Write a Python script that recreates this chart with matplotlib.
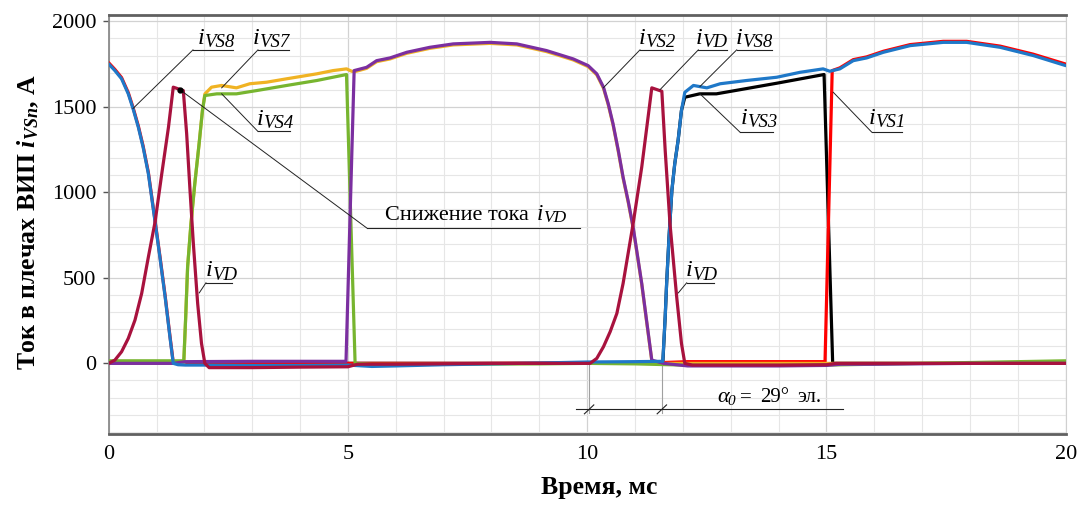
import matplotlib
matplotlib.use('Agg')
import matplotlib.pyplot as plt
import numpy as np
from matplotlib.ticker import MultipleLocator

plt.rcParams['font.family'] = ['Liberation Serif', 'DejaVu Serif']
plt.rcParams['mathtext.fontset'] = 'custom'
plt.rcParams['mathtext.rm'] = 'Liberation Serif'
plt.rcParams['mathtext.it'] = 'Liberation Serif:italic'
plt.rcParams['mathtext.bf'] = 'Liberation Serif:bold'
HAS_BFIT = 'mathtext.bfit' in plt.rcParams
if HAS_BFIT:
    plt.rcParams['mathtext.bfit'] = 'Liberation Serif:italic:bold'

# ---------------- data (time, ms ; current, A) ----------------
t_vs8 = [0, 0.13, 0.27, 0.41, 0.51, 0.62, 0.72, 0.83, 0.97, 1.07, 1.18, 1.28, 1.35, 1.45, 1.6, 2.0,
         3.0, 4.0, 5.0, 5.5, 6.0, 7.0, 8.0, 9.0, 10.0, 11.0, 11.58, 11.63, 11.66, 11.71, 11.77, 11.83,
         11.90, 11.97, 12.04, 12.22, 12.50, 12.78, 13.33, 13.96, 14.45, 14.93, 15.07, 15.28, 15.56,
         15.84, 16.19, 16.75, 17.44, 17.93, 18.63, 19.32, 20.0]
i_vs8 = [1751, 1712, 1664, 1576, 1489, 1381, 1264, 1109, 827, 622, 389, 155, 0, -8, -10, -10,
         -12, -12, -10, -18, -15, -8, -3, 2, 8, 10, 12, 272, 467, 739, 1012, 1168,
         1304, 1479, 1585, 1625, 1611, 1635, 1654, 1673, 1702, 1722, 1708, 1722, 1770,
         1786, 1819, 1858, 1877, 1877, 1848, 1800, 1741]

t_vs1 = [0, 0.13, 0.27, 0.41, 0.51, 0.62, 0.72, 0.83, 0.97, 1.07, 1.18, 1.28, 1.35, 1.5, 2.0, 5.0,
         8.0, 11.6, 12.1, 14.97, 15.12, 15.28, 15.56, 15.84, 16.19, 16.75, 17.44, 17.93, 18.63,
         19.32, 20.0]
i_vs1 = [1758, 1719, 1671, 1583, 1496, 1388, 1271, 1116, 834, 629, 396, 162, 5, 0, 0, 0,
         0, 5, 10, 10, 1712, 1728, 1776, 1792, 1825, 1864, 1883, 1883, 1855,
         1808, 1750]

t_vd = [0, 0.13, 0.27, 0.41, 0.55, 0.69, 0.83, 0.97, 1.11, 1.25, 1.35, 1.56, 1.63, 1.70, 1.77, 1.86,
        1.94, 2.01, 2.1, 3.0, 4.0, 5.0, 5.2, 6.0, 8.0, 10.06, 10.20, 10.34, 10.48, 10.62, 10.75,
        10.96, 11.14, 11.35, 11.56, 11.63, 11.73, 11.87, 11.97, 12.04, 12.2, 13.0, 14.0, 15.0, 15.2,
        16.0, 18.0, 20.0]
i_vd = [0, 19, 68, 146, 253, 409, 622, 827, 1109, 1381, 1615, 1595, 1343, 1012, 700, 350,
        117, 0, -25, -25, -22, -20, -5, -5, 0, 0, 29, 97, 185, 292, 467,
        817, 1148, 1611, 1591, 1245, 817, 389, 117, 0, -10, -10, -10, -8, 0,
        0, 0, 0]

t_vs4 = [0, 1.0, 1.57, 1.61, 1.65, 1.72, 1.80, 1.89, 1.96, 2.01, 2.26, 2.67, 3.09, 3.72, 4.35, 4.97,
         5.15, 5.5, 7.0, 9.0, 10.0, 11.0, 12.0, 13.0, 14.0, 15.0, 16.0, 17.0, 18.0, 19.0, 20.0]
i_vs4 = [15, 15, 15, 272, 564, 817, 1051, 1284, 1479, 1566, 1576, 1576, 1595, 1625, 1654, 1689,
         0, -5, -5, -3, 0, -3, -10, -12, -12, -10, -5, 0, 5, 10, 15]

t_vs7 = [0, 1.57, 1.61, 1.65, 1.72, 1.80, 1.89, 1.96, 2.01, 2.15, 2.36, 2.67, 2.95, 3.30, 3.72,
         4.35, 4.69, 4.97, 5.08, 5.15, 5.39, 5.60, 5.88, 6.23, 6.71, 7.20, 7.97, 8.53, 9.15, 9.71,
         10.02, 10.20, 10.34, 10.44, 10.54, 10.65, 10.75, 10.86, 10.96, 11.14, 11.24, 11.35, 11.5,
         12.0, 15.0, 20.0]
i_vs7 = [0, 0, 272, 564, 817, 1051, 1284, 1479, 1575, 1615, 1625, 1611, 1635, 1644, 1664,
         1693, 1712, 1722, 1708, 1706, 1725, 1764, 1780, 1813, 1842, 1862, 1871, 1862, 1823, 1774,
         1735, 1687, 1609, 1512, 1395, 1239, 1083, 938, 791, 461, 247, 15, 0,
         0, 0, 0]

t_vs2 = [0, 1.35, 1.6, 3.0, 4.96, 5.13, 5.39, 5.60, 5.88, 6.23, 6.71, 7.20, 7.97, 8.53, 9.15, 9.71,
         10.02, 10.20, 10.34, 10.44, 10.54, 10.65, 10.75, 10.86, 10.96, 11.14, 11.24, 11.35, 11.6,
         12.1, 13.0, 14.0, 15.0, 15.3, 16.0, 18.0, 20.0]
i_vs2 = [0, 0, 10, 12, 12, 1712, 1731, 1770, 1786, 1819, 1848, 1868, 1877, 1868, 1829, 1780,
         1741, 1693, 1615, 1518, 1401, 1245, 1089, 944, 797, 467, 253, 19, 0,
         -15, -15, -15, -12, -5, -5, 0, 0]

t_vs3 = [0, 11.58, 11.63, 11.66, 11.71, 11.77, 11.83, 11.90, 11.97, 12.04, 12.35, 12.70, 13.19,
         13.96, 14.95, 15.13, 20.0]
i_vs3 = [0, 0, 272, 467, 739, 1012, 1168, 1304, 1479, 1556, 1576, 1576, 1600,
         1638, 1689, 0, 0]

x_ticks = [0, 5, 10, 15, 20]
y_ticks = [0, 500, 1000, 1500, 2000]

# ---------------- figure ----------------
fig = plt.figure(figsize=(10.79, 5.05), dpi=100)
ax = fig.add_axes([0.1007, 0.1406, 0.887, 0.8297])

LW = 2.3
series = [
    (t_vs3, i_vs3, '#000000', 2),
    (t_vs1, i_vs1, '#FF0000', 3),
    (t_vs7, i_vs7, '#F0B323', 4),
    (t_vs4, i_vs4, '#77B52F', 5),
    (t_vs2, i_vs2, '#7B2FA0', 6),
    (t_vs8, i_vs8, '#1F78C8', 7),
    (t_vd, i_vd, '#A8123E', 8),
]
for tt, ii, c, z in series:
    ax.plot(tt, ii, color=c, lw=LW, zorder=z, solid_joinstyle='round', solid_capstyle='round')

ax.set_xlim(0, 20)
ax.set_ylim(-413, 2037)
ax.set_xticks(x_ticks)
ax.set_yticks(y_ticks)
ax.xaxis.set_minor_locator(MultipleLocator(1))
ax.yaxis.set_minor_locator(MultipleLocator(100))
ax.grid(which='minor', color='#e6e6e6', lw=0.8)
ax.grid(which='major', color='#d2d2d2', lw=0.9)
ax.set_axisbelow(True)
ax.tick_params(which='minor', length=0)
ax.tick_params(axis='x', which='major', length=0, pad=8, labelsize=16)
ax.tick_params(axis='y', which='major', length=4, width=1, color='#555555', pad=5, labelsize=16)

for s in ['top', 'bottom']:
    ax.spines[s].set_color('#606060')
    ax.spines[s].set_linewidth(2)
ax.spines['left'].set_color('#8a8a8a')
ax.spines['left'].set_linewidth(1.3)
ax.spines['right'].set_color('#d0d0d0')
ax.spines['right'].set_linewidth(0.8)

ax.set_xlabel('Время, мс', fontsize=18.5, fontweight='bold')
ax.xaxis.set_label_coords(0.513, -0.1)
if HAS_BFIT:
    ylab = r'Ток в плечах ВИП $\mathbfit{i}_{\mathbfit{VSn}}$, А'
else:
    ylab = r'Ток в плечах ВИП $\mathbf{i}_{\mathbf{VSn}}$, А'
ax.set_ylabel(ylab, fontsize=18.5, fontweight='bold')
ax.yaxis.set_label_coords(-0.071, 0.505)

# ---------------- annotations ----------------
ANN = '#222222'

def ilabel(it, iI, st, sI, sub, u0, u1, uI, lt, lI):
    ax.text(it, iI, 'i', fontsize=17.5, style='italic', ha='left', va='baseline', zorder=10)
    ax.text(st, sI, sub, fontsize=13.5, style='italic', ha='left', va='baseline', zorder=10)
    ax.plot([u0, u1], [uI, uI], color=ANN, lw=0.8, zorder=10)
    ax.plot([lt, u0], [lI, uI], color=ANN, lw=0.7, zorder=10)

ilabel(1.86, 1868, 1.992, 1848, 'VS8', 1.762, 2.598, 1833, 0.508, 1490)
ilabel(3.01, 1868, 3.141, 1848, 'VS7', 3.120, 3.768, 1833, 2.362, 1611)
ilabel(3.10, 1391, 3.231, 1378, 'VS4', 3.120, 3.789, 1356, 2.362, 1576)
ilabel(2.02, 510, 2.153, 486, 'VD', 2.033, 2.571, 471, 1.893, 412)
ilabel(11.08, 1868, 11.208, 1848, 'VS2', 11.103, 11.787, 1833, 10.337, 1611)
ilabel(12.27, 1868, 12.393, 1848, 'VD', 12.322, 12.915, 1833, 11.521, 1600)
ilabel(13.10, 1868, 13.229, 1848, 'VS8', 13.124, 13.856, 1833, 12.357, 1619)
ilabel(13.20, 1401, 13.333, 1385, 'VS3', 13.193, 13.889, 1352, 12.357, 1576)
ilabel(15.88, 1401, 16.014, 1385, 'VS1', 15.946, 16.573, 1352, 15.143, 1585)
ilabel(12.06, 510, 12.184, 486, 'VD', 12.079, 12.650, 471, 11.904, 412)

# "Снижение тока i_VD"
ax.text(5.774, 841, 'Снижение тока', fontsize=16, ha='left', va='baseline', zorder=10)
ax.text(8.945, 841, 'i', fontsize=16.5, style='italic', ha='left', va='baseline', zorder=10)
ax.text(9.076, 827, 'VD', fontsize=12.5, style='italic', ha='left', va='baseline', zorder=10)
ax.plot([5.392, 9.850], [792, 792], color=ANN, lw=0.8, zorder=10)
ax.plot([1.49, 5.392], [1600, 792], color=ANN, lw=0.7, zorder=10)
ax.plot([1.49], [1600], 'o', color='black', ms=3.5, zorder=11)

# alpha dimension
for tv in [10.04, 11.56]:
    ax.plot([tv, tv], [0, -290], color='#a0a0a0', lw=0.8, zorder=1.5)
    ax.plot([tv - 0.098, tv + 0.098], [-269 - 26, -269 + 26], color=ANN, lw=0.8, zorder=10)
ax.plot([9.77, 15.34], [-269, -269], color=ANN, lw=0.8, zorder=10)
ax.text(12.71, -224, 'α', fontsize=16, style='italic', ha='left', va='baseline', zorder=10)
ax.text(12.94, -245, '0', fontsize=11, style='italic', ha='left', va='baseline', zorder=10)
ax.text(13.19, -224, '=', fontsize=15, ha='left', va='baseline', zorder=10)
ax.text(13.61, -224, '29°', fontsize=15, ha='left', va='baseline', zorder=10)
ax.text(14.40, -224, 'эл.', fontsize=15, ha='left', va='baseline', zorder=10)

fig.savefig('out.png', dpi=100)
